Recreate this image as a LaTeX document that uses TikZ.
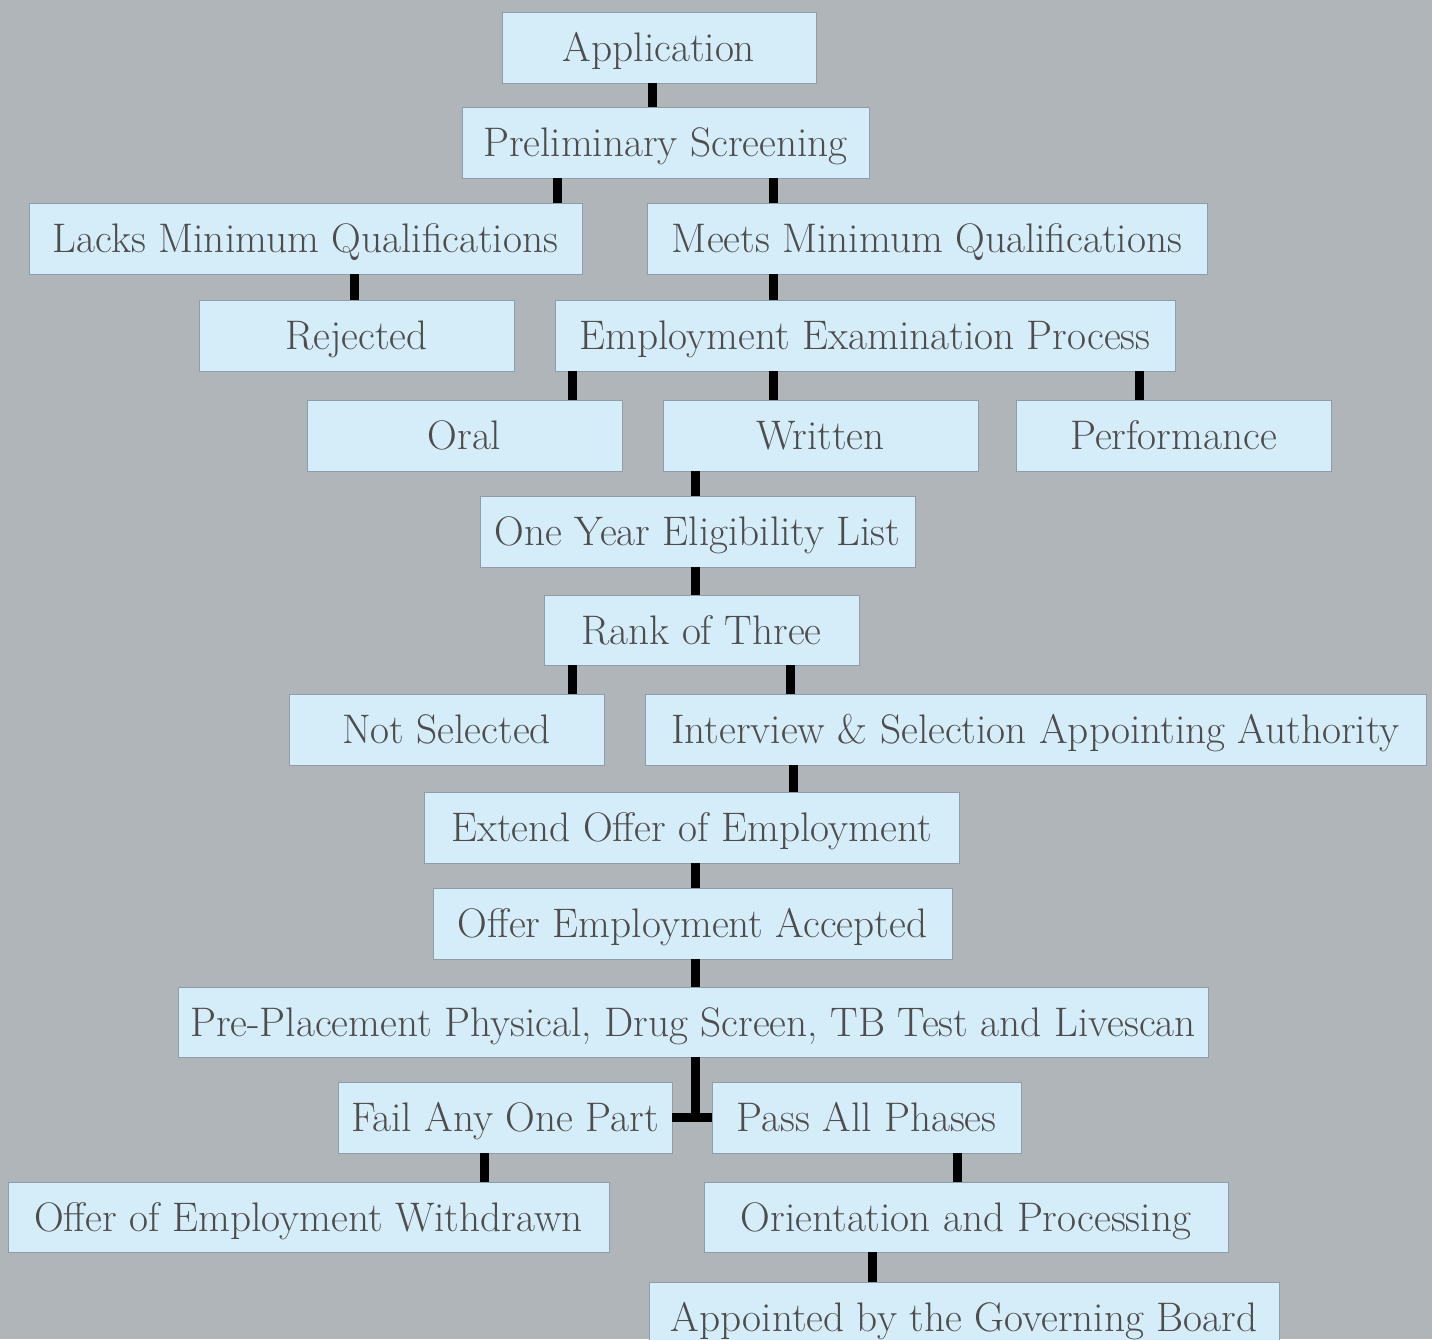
\documentclass[tikz,border=0pt]{standalone}
\usepackage{xcolor,tikz}
\usetikzlibrary{positioning,calc}
\definecolor{flowBack}{HTML}{B0B5B9}
\definecolor{flowFill}{HTML}{D5ECF9}
\definecolor{flowEdge}{HTML}{8E9DAA}
\definecolor{flowText}{HTML}{4D4D4D}
\def\pxu{0.02cm}
\tikzset{
  stepbox/.style={
    draw=flowEdge, fill=flowFill, line width=0.5pt,
    text=flowText, inner sep=0pt,
    text height=21pt, text depth=4.6pt,
    minimum height=71*\pxu,
    font=\fontsize{23.5}{27}\selectfont,
  },
  link/.style={line width=9*\pxu, black},
}

\begin{document}
\begin{tikzpicture}[x=\pxu, y=-\pxu]

% Background and page size
\fill[flowBack] (0,0) rectangle (1432,1339);
\useasboundingbox (0,0) rectangle (1432,1339);
\clip (0,0) rectangle (1432,1339);

% Screening
\node[stepbox, minimum width=314*\pxu] (app) at (659,47.5) {Application};
\node[stepbox, minimum width=407*\pxu] (prelim) at (665.5,142.5) {Preliminary Screening};
\node[stepbox, minimum width=553*\pxu] (lacks) at (305.5,238.5) {Lacks Minimum Qualifications};
\node[stepbox, minimum width=560*\pxu] (meets) at (927,238.5) {Meets Minimum Qualifications};
\node[stepbox, minimum width=315*\pxu] (rejected) at (356.5,335.5) {Rejected};
\node[stepbox, minimum width=620*\pxu] (exam) at (865,335.5) {Employment Examination Process};

% Examination types
\node[stepbox, minimum width=315*\pxu] (oral) at (464.5,435.5) {Oral};
\node[stepbox, minimum width=315*\pxu] (written) at (820.5,435.5) {Written};
\node[stepbox, minimum width=315*\pxu] (perf) at (1173.5,435.5) {Performance};

% Selection
\node[stepbox, minimum width=435*\pxu] (elig) at (697.5,531.5) {One Year Eligibility List};
\node[stepbox, minimum width=315*\pxu, minimum height=70*\pxu] (rank) at (701.5,630) {Rank of Three};
\node[stepbox, minimum width=315*\pxu] (notsel) at (446.5,729.5) {Not Selected};
\node[stepbox, minimum width=781*\pxu] (interview) at (1035.5,729.5) {Interview \& Selection Appointing Authority};
\node[stepbox, minimum width=535*\pxu] (extend) at (691.5,827.5) {Extend Offer of Employment};
\node[stepbox, minimum width=519*\pxu] (accepted) at (692.5,923.5) {Offer Employment Accepted};

% Pre-placement
\node[stepbox, minimum width=1030*\pxu, minimum height=70*\pxu] (prep) at (693,1022) {Pre-Placement Physical, Drug Screen, TB Test and Livescan};
\node[stepbox, minimum width=334*\pxu] (fail) at (505,1117.5) {Fail Any One Part};
\node[stepbox, minimum width=309*\pxu] (pass) at (866.5,1117.5) {Pass All Phases};
\node[stepbox, minimum width=601*\pxu, minimum height=70*\pxu] (withdrawn) at (308.5,1217) {Offer of Employment Withdrawn};
\node[stepbox, minimum width=524*\pxu, minimum height=70*\pxu] (orient) at (966,1217) {Orientation and Processing};
\node[stepbox, minimum width=630*\pxu, minimum height=70*\pxu] (appointed) at (964,1317) {Appointed by the Governing Board};

% Connectors
\draw[link] (app.south -| 652,0) -- (prelim.north -| 652,0);
\draw[link] (prelim.south -| 557,0) -- (lacks.north -| 557,0);
\draw[link] (prelim.south -| 773,0) -- (meets.north -| 773,0);
\draw[link] (lacks.south -| 354,0) -- (rejected.north -| 354,0);
\draw[link] (meets.south -| 773,0) -- (exam.north -| 773,0);
\draw[link] (exam.south -| 572,0) -- (oral.north -| 572,0);
\draw[link] (exam.south -| 773,0) -- (written.north -| 773,0);
\draw[link] (exam.south -| 1139,0) -- (perf.north -| 1139,0);
\draw[link] (written.south -| 695,0) -- (elig.north -| 695,0);
\draw[link] (elig.south -| 695,0) -- (rank.north -| 695,0);
\draw[link] (rank.south -| 572,0) -- (notsel.north -| 572,0);
\draw[link] (rank.south -| 790,0) -- (interview.north -| 790,0);
\draw[link] (interview.south -| 793,0) -- (extend.north -| 793,0);
\draw[link] (extend.south -| 695,0) -- (accepted.north -| 695,0);
\draw[link] (accepted.south -| 695,0) -- (prep.north -| 695,0);
\draw[link] (prep.south -| 695,0) -- (fail.east -| 695,0);
\draw[link] (fail.east) -- (pass.west);
\draw[link] (fail.south -| 484,0) -- (withdrawn.north -| 484,0);
\draw[link] (pass.south -| 957,0) -- (orient.north -| 957,0);
\draw[link] (orient.south -| 872,0) -- (appointed.north -| 872,0);

\end{tikzpicture}
\end{document}
